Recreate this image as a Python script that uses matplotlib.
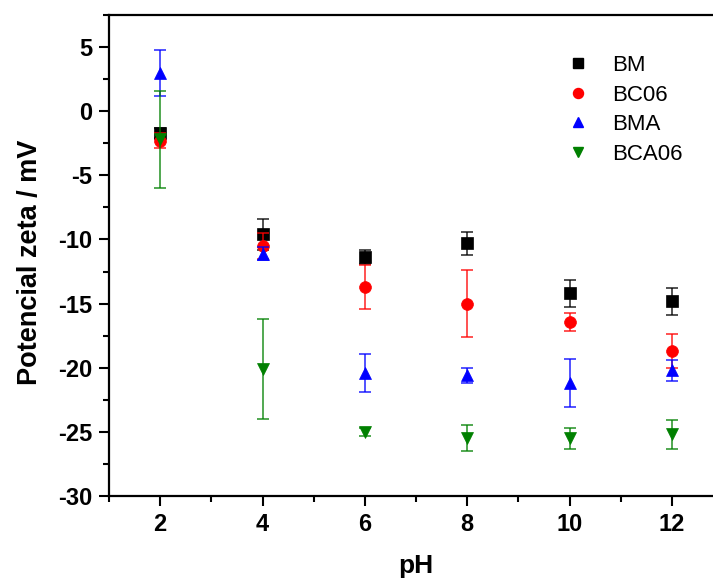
import numpy as np
import matplotlib
matplotlib.use("Agg")
import matplotlib.pyplot as plt
from matplotlib.ticker import MultipleLocator
from matplotlib.lines import Line2D

plt.rcParams['font.family'] = ['Liberation Sans', 'DejaVu Sans']
plt.rcParams['axes.unicode_minus'] = False

ph = [2, 4, 6, 8, 10, 12]

# zeta potential (mV) and error
bm = [-1.7, -9.6, -11.4, -10.3, -14.2, -14.8]
bm_err = [0.4, 1.2, 0.55, 0.9, 1.05, 1.05]
bc06 = [-2.3, -10.5, -13.7, -15.0, -16.4, -18.7]
bc06_err = [0.6, 1.0, 1.7, 2.6, 0.7, 1.3]
bma = [3.0, -11.1, -20.4, -20.6, -21.2, -20.2]
bma_err = [1.8, 0.5, 1.5, 0.6, 1.85, 0.8]
bca06 = [-2.2, -20.1, -25.0, -25.5, -25.5, -25.2]
bca06_err = [3.8, 3.9, 0.3, 1.0, 0.8, 1.15]

labels = ['BM', 'BC06', 'BMA', 'BCA06']
series = [bm, bc06, bma, bca06]
errors = [bm_err, bc06_err, bma_err, bca06_err]
colors = ['black', 'red', 'blue', 'green']
markers = ['s', 'o', '^', 'v']
sizes = [8, 8.5, 9, 9]

fig = plt.figure(figsize=(7.13, 5.82), dpi=100)
ax = fig.add_axes([109/713, 86/582, 614/713, 481/582])

handles = []
for y, e, lab, c, m, s in zip(series, errors, labels, colors, markers, sizes):
    ax.errorbar(ph, y, yerr=e, fmt='none', ecolor=c, elinewidth=1.2,
                capsize=4.3, capthick=1.2, alpha=0.8)
    ax.plot(ph, y, linestyle='none', marker=m, color=c, markersize=s,
            markeredgecolor=c, markeredgewidth=0.5)
    handles.append(Line2D([], [], linestyle='none', marker=m, color=c,
                          markersize=s * 0.85, markeredgecolor=c, label=lab))

ax.set_xlim(1, 13)
ax.set_ylim(-30, 7.5)
ax.xaxis.set_major_locator(MultipleLocator(2))
ax.xaxis.set_minor_locator(MultipleLocator(1))
ax.yaxis.set_major_locator(MultipleLocator(5))
ax.yaxis.set_minor_locator(MultipleLocator(2.5))
ax.set_xticks([2, 4, 6, 8, 10, 12])

ax.tick_params(which='major', direction='out', length=7, width=1.5,
               labelsize=17, pad=5)
ax.tick_params(which='minor', direction='out', length=4, width=1.5)
for lbl in ax.get_xticklabels() + ax.get_yticklabels():
    lbl.set_fontweight('bold')
for sp in ax.spines.values():
    sp.set_linewidth(1.6)

ax.set_xlabel('pH', fontsize=19, fontweight='bold', labelpad=13)
ax.set_ylabel('Potencial zeta / mV', fontsize=19.5, fontweight='bold')
ax.yaxis.set_label_coords(-0.108, 0.485)

leg = ax.legend(handles=handles, loc='upper left', bbox_to_anchor=(0.695, 0.958),
                frameon=False, fontsize=16, handletextpad=0.55,
                labelspacing=0.38, numpoints=1)

fig.savefig('out.png', dpi=100)
